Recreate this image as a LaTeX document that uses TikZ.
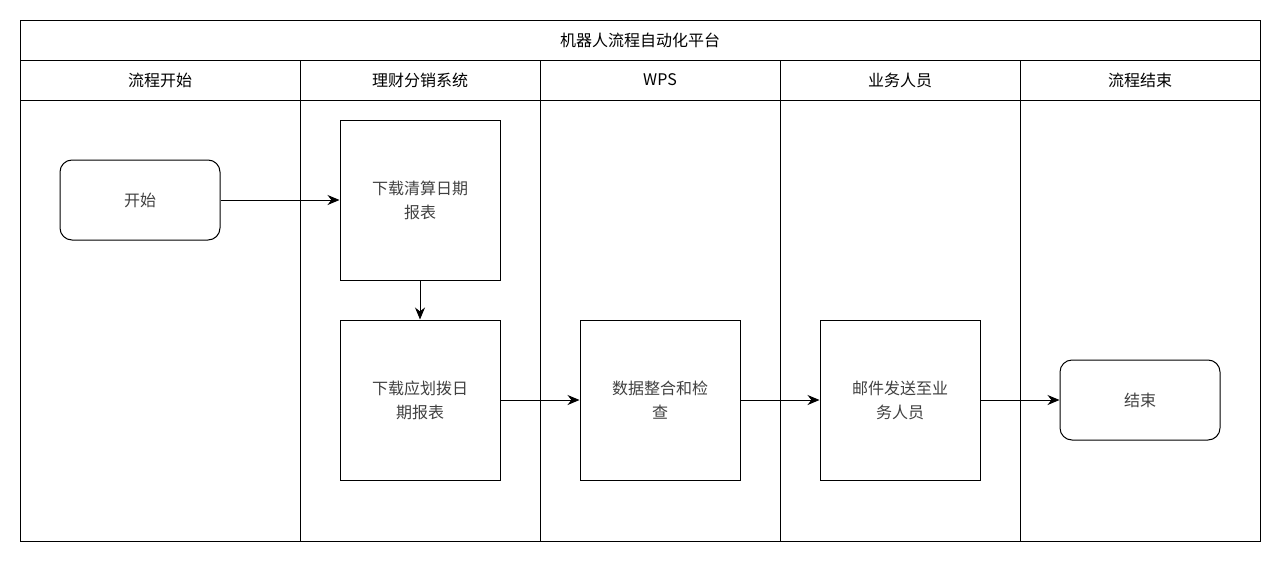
\documentclass[tikz,border=0pt]{standalone}
\usepackage{fontspec}
\newfontfamily\cjk{Noto Sans CJK SC}
\usetikzlibrary{arrows.meta}
\begin{document}
\begin{tikzpicture}[x=1pt,y=-1pt,
  lane/.style={draw,line width=1pt},
  hdr/.style={font=\cjk\fontsize{16}{18}\selectfont,anchor=center},
  box/.style={draw,line width=1pt,minimum width=160pt,inner sep=0pt,align=center,font=\cjk\fontsize{16}{24}\selectfont,text=black!75},
  rbox/.style={box,rounded corners=12pt,minimum height=80pt},
  sbox/.style={box,minimum height=160pt},
  arr/.style={-{Stealth[length=12pt,width=10pt]},line width=1pt}]
\useasboundingbox (0,0) rectangle (1282,562);
\draw[lane] (20,20) rectangle (1260,541);
\draw[lane] (20,60) -- (1260,60);
\draw[lane] (20,100) -- (1260,100);
\foreach \x in {300,540,780,1020} \draw[lane] (\x,60) -- (\x,541);
\node[hdr] (title) at (640,40) {机器人流程自动化平台};
\node[hdr] (h1) at (160,80) {流程开始};
\node[hdr] (h2) at (420,80) {理财分销系统};
\node[hdr] (h3) at (660,80) {WPS};
\node[hdr] (h4) at (900,80) {业务人员};
\node[hdr] (h5) at (1140,80) {流程结束};
\node[rbox] (start) at (140,200) {开始};
\node[sbox] (a) at (420,200) {下载清算日期\\报表};
\node[sbox] (b) at (420,400) {下载应划拨日\\期报表};
\node[sbox] (c) at (660,400) {数据整合和检\\查};
\node[sbox] (d) at (900,400) {邮件发送至业\\务人员};
\node[rbox] (end) at (1140,400) {结束};
\draw[arr] (start) -- (a);
\draw[arr] (a) -- (b);
\draw[arr] (b) -- (c);
\draw[arr] (c) -- (d);
\draw[arr] (d) -- (end);
\end{tikzpicture}
\end{document}
